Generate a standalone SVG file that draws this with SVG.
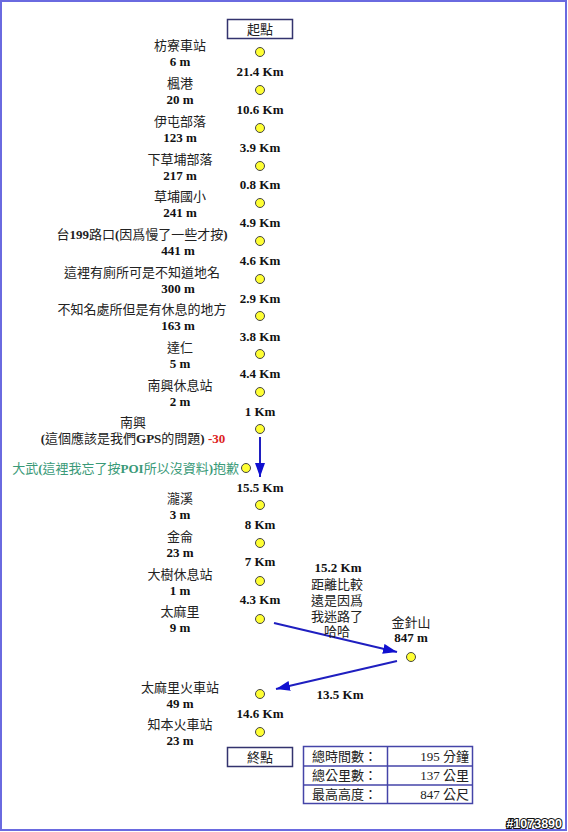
<svg xmlns="http://www.w3.org/2000/svg" width="568" height="832" viewBox="0 0 568 832">
<style>
text{font-family:"Noto Sans CJK TC","Noto Sans CJK SC",sans-serif;font-size:13px;fill:#222}
.n{text-anchor:middle}
.v{text-anchor:middle;font-family:"Liberation Serif","Noto Sans CJK TC",serif;font-weight:bold;fill:#111}
.b{font-family:"Liberation Serif",serif;font-weight:bold}
.r{font-family:"Liberation Serif",serif;font-weight:normal}
.red{fill:#dd2222}
.teal{fill:#3a9a78}
.dot{fill:#ffff33;stroke:#444;stroke-width:1}
.box{fill:#fff;stroke:#33336e;stroke-width:1.5}
.tb{fill:none;stroke:#4444a8;stroke-width:1.5}
.c{stroke:#1f1fc0;stroke-width:2;fill:none}
</style>
<defs>
<marker id="ah" markerUnits="userSpaceOnUse" markerWidth="14" markerHeight="10" refX="14" refY="5" orient="auto">
<path d="M0,0 L14,5 L0,10 z" fill="#1010d0"/>
</marker>
</defs>
<rect x="1" y="1" width="565" height="829" fill="#fff" stroke="#6a6ae0" stroke-width="2"/>

<g id="start"><rect class="box" x="227.5" y="19.5" width="65" height="19"/><text class="n" x="260" y="34">起點</text></g>

<g id="connectors">
<line class="c" x1="260" y1="437" x2="260" y2="477" marker-end="url(#ah)"/>
<line class="c" x1="274" y1="623" x2="397" y2="652" marker-end="url(#ah)"/>
<line class="c" x1="397" y1="661" x2="276" y2="689" marker-end="url(#ah)"/>
</g>

<g id="n1"><circle class="dot" cx="260" cy="52" r="4.5"/><text class="n" x="180" y="50">枋寮車站</text><text class="v" x="180" y="65.5">6 m</text><text class="v" x="260" y="75.5">21.4 Km</text></g>
<g id="n2"><circle class="dot" cx="260" cy="90" r="4.5"/><text class="n" x="180" y="88">楓港</text><text class="v" x="180" y="103.5">20 m</text><text class="v" x="260" y="113.5">10.6 Km</text></g>
<g id="n3"><circle class="dot" cx="260" cy="128" r="4.5"/><text class="n" x="180" y="126">伊屯部落</text><text class="v" x="180" y="141.5">123 m</text><text class="v" x="260" y="151.5">3.9 Km</text></g>
<g id="n4"><circle class="dot" cx="260" cy="166" r="4.5"/><text class="n" x="180" y="164">下草埔部落</text><text class="v" x="180" y="179.5">217 m</text><text class="v" x="260" y="188.5">0.8 Km</text></g>
<g id="n5"><circle class="dot" cx="260" cy="203" r="4.5"/><text class="n" x="180" y="201">草埔國小</text><text class="v" x="180" y="216.5">241 m</text><text class="v" x="260" y="226.5">4.9 Km</text></g>
<g id="n6"><circle class="dot" cx="260" cy="241" r="4.5"/><text class="n" x="142" y="239">台<tspan class="b">199</tspan>路口<tspan class="b">(</tspan>因爲慢了一些才按<tspan class="b">)</tspan></text><text class="v" x="178" y="254.5">441 m</text><text class="v" x="260" y="264.5">4.6 Km</text></g>
<g id="n7"><circle class="dot" cx="260" cy="279" r="4.5"/><text class="n" x="142" y="277">這裡有廁所可是不知道地名</text><text class="v" x="178" y="292.5">300 m</text><text class="v" x="260" y="302.5">2.9 Km</text></g>
<g id="n8"><circle class="dot" cx="260" cy="316" r="4.5"/><text class="n" x="142" y="314">不知名處所但是有休息的地方</text><text class="v" x="178" y="329.5">163 m</text><text class="v" x="260" y="340.5">3.8 Km</text></g>
<g id="n9"><circle class="dot" cx="260" cy="354" r="4.5"/><text class="n" x="180" y="352">達仁</text><text class="v" x="180" y="367.5">5 m</text><text class="v" x="260" y="377.5">4.4 Km</text></g>
<g id="n10"><circle class="dot" cx="260" cy="392" r="4.5"/><text class="n" x="180" y="390">南興休息站</text><text class="v" x="180" y="405.5">2 m</text><text class="v" x="260" y="415.5">1 Km</text></g>
<g id="n11"><circle class="dot" cx="260" cy="429" r="4.5"/><text class="n" x="133" y="427">南興</text><text class="n" x="133" y="442.5"><tspan class="b">(</tspan>這個應該是我們<tspan class="b">GPS</tspan>的問題<tspan class="b">) </tspan><tspan class="b red">-30</tspan></text></g>
<g id="n12"><circle class="dot" cx="246" cy="468" r="4.5"/><text class="teal" x="239" y="473" text-anchor="end">大武<tspan class="b">(</tspan>這裡我忘了按<tspan class="b">POI</tspan>所以沒資料<tspan class="b">)</tspan>抱歉</text><text class="v" x="260" y="491.5">15.5 Km</text></g>
<g id="n13"><circle class="dot" cx="260" cy="505" r="4.5"/><text class="n" x="180" y="503">瀧溪</text><text class="v" x="180" y="518.5">3 m</text><text class="v" x="260" y="528.5">8 Km</text></g>
<g id="n14"><circle class="dot" cx="260" cy="543" r="4.5"/><text class="n" x="180" y="541">金侖</text><text class="v" x="180" y="556.5">23 m</text><text class="v" x="260" y="565.5">7 Km</text></g>
<g id="n15"><circle class="dot" cx="260" cy="581" r="4.5"/><text class="n" x="180" y="579">大樹休息站</text><text class="v" x="180" y="594.5">1 m</text><text class="v" x="260" y="603.5">4.3 Km</text></g>
<g id="n16"><circle class="dot" cx="260" cy="619" r="4.5"/><text class="n" x="180" y="616">太麻里</text><text class="v" x="180" y="631.5">9 m</text>
<text class="v" x="338" y="571.5">15.2 Km</text><text class="n" x="337" y="589">距離比較</text><text class="n" x="337" y="605">遠是因爲</text><text class="n" x="337" y="621">我迷路了</text><text class="n" x="337" y="636">哈哈</text></g>
<g id="n17"><circle class="dot" cx="411" cy="657" r="4.5"/><text class="n" x="411" y="627">金針山</text><text class="v" x="411" y="641.5">847 m</text><text class="v" x="340" y="698.5">13.5 Km</text></g>
<g id="n18"><circle class="dot" cx="260" cy="694" r="4.5"/><text class="n" x="180" y="692">太麻里火車站</text><text class="v" x="180" y="707.5">49 m</text><text class="v" x="260" y="717.5">14.6 Km</text></g>
<g id="n19"><circle class="dot" cx="260" cy="732" r="4.5"/><text class="n" x="180" y="729">知本火車站</text><text class="v" x="180" y="744.5">23 m</text></g>

<g id="end"><rect class="box" x="227.5" y="747.5" width="65" height="19"/><text class="n" x="260" y="762">終點</text></g>

<g id="summary">
<rect class="tb" x="303.5" y="746.5" width="169" height="57"/>
<line class="tb" x1="303.5" y1="766" x2="472.5" y2="766"/>
<line class="tb" x1="303.5" y1="785" x2="472.5" y2="785"/>
<line class="tb" x1="387.5" y1="746.5" x2="387.5" y2="803.5"/>
<text x="312" y="761">總時間數：</text><text x="469" y="761" text-anchor="end"><tspan class="r">195 </tspan>分鐘</text>
<text x="312" y="780">總公里數：</text><text x="469" y="780" text-anchor="end"><tspan class="r">137 </tspan>公里</text>
<text x="312" y="799">最高高度：</text><text x="469" y="799" text-anchor="end"><tspan class="r">847 </tspan>公尺</text>
</g>

<text x="562" y="828" text-anchor="end" style="font-family:'Liberation Sans',sans-serif;font-weight:bold;font-size:12.5px;fill:#fff;stroke:#111;stroke-width:2;paint-order:stroke">#1073890</text>
</svg>
